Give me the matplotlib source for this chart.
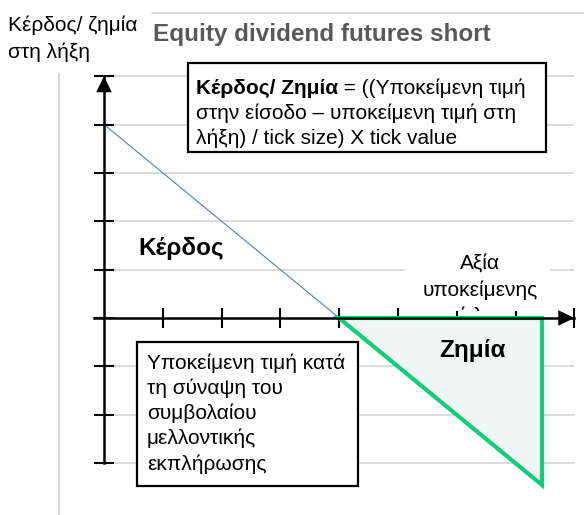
import matplotlib
matplotlib.use("Agg")
import matplotlib.pyplot as plt
from matplotlib.patches import Rectangle
from matplotlib.lines import Line2D
from matplotlib.transforms import Affine2D, Bbox, TransformedBbox

plt.rcParams['font.family'] = ['Liberation Sans', 'DejaVu Sans']

# ---- data ----
profit_x = [0, 4]
profit_y = [4, 0]
loss_x = [4, 7.45, 7.45]
loss_y = [0, 0, -3.45]
x_ticks = [1, 2, 3, 4, 5, 6, 7, 8]
y_ticks = [-3, -2, -1, 0, 1, 2, 3, 4, 5]
grid_y = [-3, -2, -1, 1, 2, 3, 4, 5]

title = "Equity dividend futures short"
ylabel_lines = ["Κέρδος/ ζημία", "στη λήξη"]
xlabel_lines = ["Αξία", "υποκείμενης", "τίτλου"]
formula_bold = "Κέρδος/ Ζημία"
formula_lines = [" = ((Υποκείμενη τιμή", "στην είσοδο – υποκείμενη τιμή στη",
                 "λήξη) / tick size) X tick value"]
entry_lines = ["Υποκείμενη τιμή κατά", "τη σύναψη του", "συμβολαίου",
               "μελλοντικής", "εκπλήρωσης"]
profit_label = "Κέρδος"
loss_label = "Ζημία"

W, H = 584, 515
fig = plt.figure(figsize=(W / 100, H / 100), dpi=100)
PX = Affine2D().scale(1 / W, -1 / H).translate(0, 1) + fig.transFigure

ax = fig.add_axes([0, 0, 1, 1])
ox, oy, ux, uy = 104, 318, 58.8, 48.375
ax.set_xlim(-ox / ux, (W - ox) / ux)
ax.set_ylim(-(H - oy) / uy, oy / uy)
ax.patch.set_visible(False)

GRID = '#D9D9D9'
GREEN = '#14CC7A'
FS = 15
FSB = 17.5

# decorative frame lines
fig.add_artist(Line2D([152, 584], [13, 13], transform=PX, color=GRID, lw=1.3))
fig.add_artist(Line2D([59, 59], [74, 515], transform=PX, color=GRID, lw=1.5))

# gridlines
ax.hlines(grid_y, 0, 8, colors=GRID, lw=1.3, zorder=0.5)

# spines as arrow axes
for s in ['top', 'right']:
    ax.spines[s].set_visible(False)
ax.spines['left'].set_position(('data', 0))
ax.spines['bottom'].set_position(('data', 0))
ax.spines['left'].set_bounds(-3, 5)
ax.spines['bottom'].set_bounds(-10 / ux, 8)
for s in ['left', 'bottom']:
    ax.spines[s].set_linewidth(1.8)
ax.set_xticks(x_ticks)
ax.set_yticks(y_ticks)
ax.tick_params(direction='inout', length=14.5, width=1.5, color='black',
               labelleft=False, labelbottom=False)

# arrow heads
arrow = dict(arrowstyle='-|>,head_length=0.58,head_width=0.28', color='black',
             lw=0, mutation_scale=20, shrinkA=0, shrinkB=0)
ax.annotate('', xy=(0, 5), xytext=(0, 4.5), arrowprops=arrow, zorder=4)
ax.annotate('', xy=(8, 0), xytext=(7.5, 0), arrowprops=arrow, zorder=4)

# profit line
ax.plot(profit_x, profit_y, color='#4A7EC6', lw=0.8, zorder=2)

# loss triangle
ax.fill(loss_x, loss_y, facecolor='#EEF7F3', edgecolor=GREEN, lw=3,
        joinstyle='miter', zorder=2.4)

# white background behind x label, label clipped at the axis
fig.add_artist(Rectangle((405, 248), 145, 63, transform=PX, facecolor='white',
                         edgecolor='none', zorder=1))
clip = TransformedBbox(Bbox([[405, 240], [550, 311]]), PX)
for i, line in enumerate(xlabel_lines):
    t = fig.text(480, 263 + 27 * i, line, transform=PX, ha='center', va='center',
                 fontsize=FS, zorder=3)
    t.set_clip_box(clip)
    t.set_clip_on(True)

# titles
fig.text(153, 34, title, transform=PX, ha='left', va='center', fontsize=FSB,
         fontweight='bold', color='#595959')
for i, line in enumerate(ylabel_lines):
    fig.text(8, 25 + 27 * i, line, transform=PX, ha='left', va='center',
             fontsize=FS)

# formula box
fig.add_artist(Rectangle((188, 63), 358, 89, transform=PX, facecolor='white',
                         edgecolor='black', lw=1.6, zorder=5))
tb = fig.text(196, 88, formula_bold, transform=PX, ha='left', va='center',
              fontsize=FS, fontweight='bold', zorder=6)
renderer = fig.canvas.get_renderer()
bb = tb.get_window_extent(renderer)
fig.text(bb.x1 / W, 1 - 88 / H, formula_lines[0], transform=fig.transFigure,
         ha='left', va='center', fontsize=FS, zorder=6)
for i, line in enumerate(formula_lines[1:]):
    fig.text(196, 113 + 25 * i, line, transform=PX, ha='left', va='center',
             fontsize=FS, zorder=6)

# entry box
fig.add_artist(Rectangle((137, 342), 221, 144, transform=PX, facecolor='white',
                         edgecolor='black', lw=1.6, zorder=5))
for i, line in enumerate(entry_lines):
    fig.text(147, 363 + 25.2 * i, line, transform=PX, ha='left', va='center',
             fontsize=FS, zorder=6)

# region labels
fig.text(138, 249, profit_label, transform=PX, ha='left', va='center',
         fontsize=FSB, fontweight='bold')
fig.text(473, 351, loss_label, transform=PX, ha='center', va='center',
         fontsize=FSB, fontweight='bold', zorder=6)

fig.savefig('out.png', dpi=100)
